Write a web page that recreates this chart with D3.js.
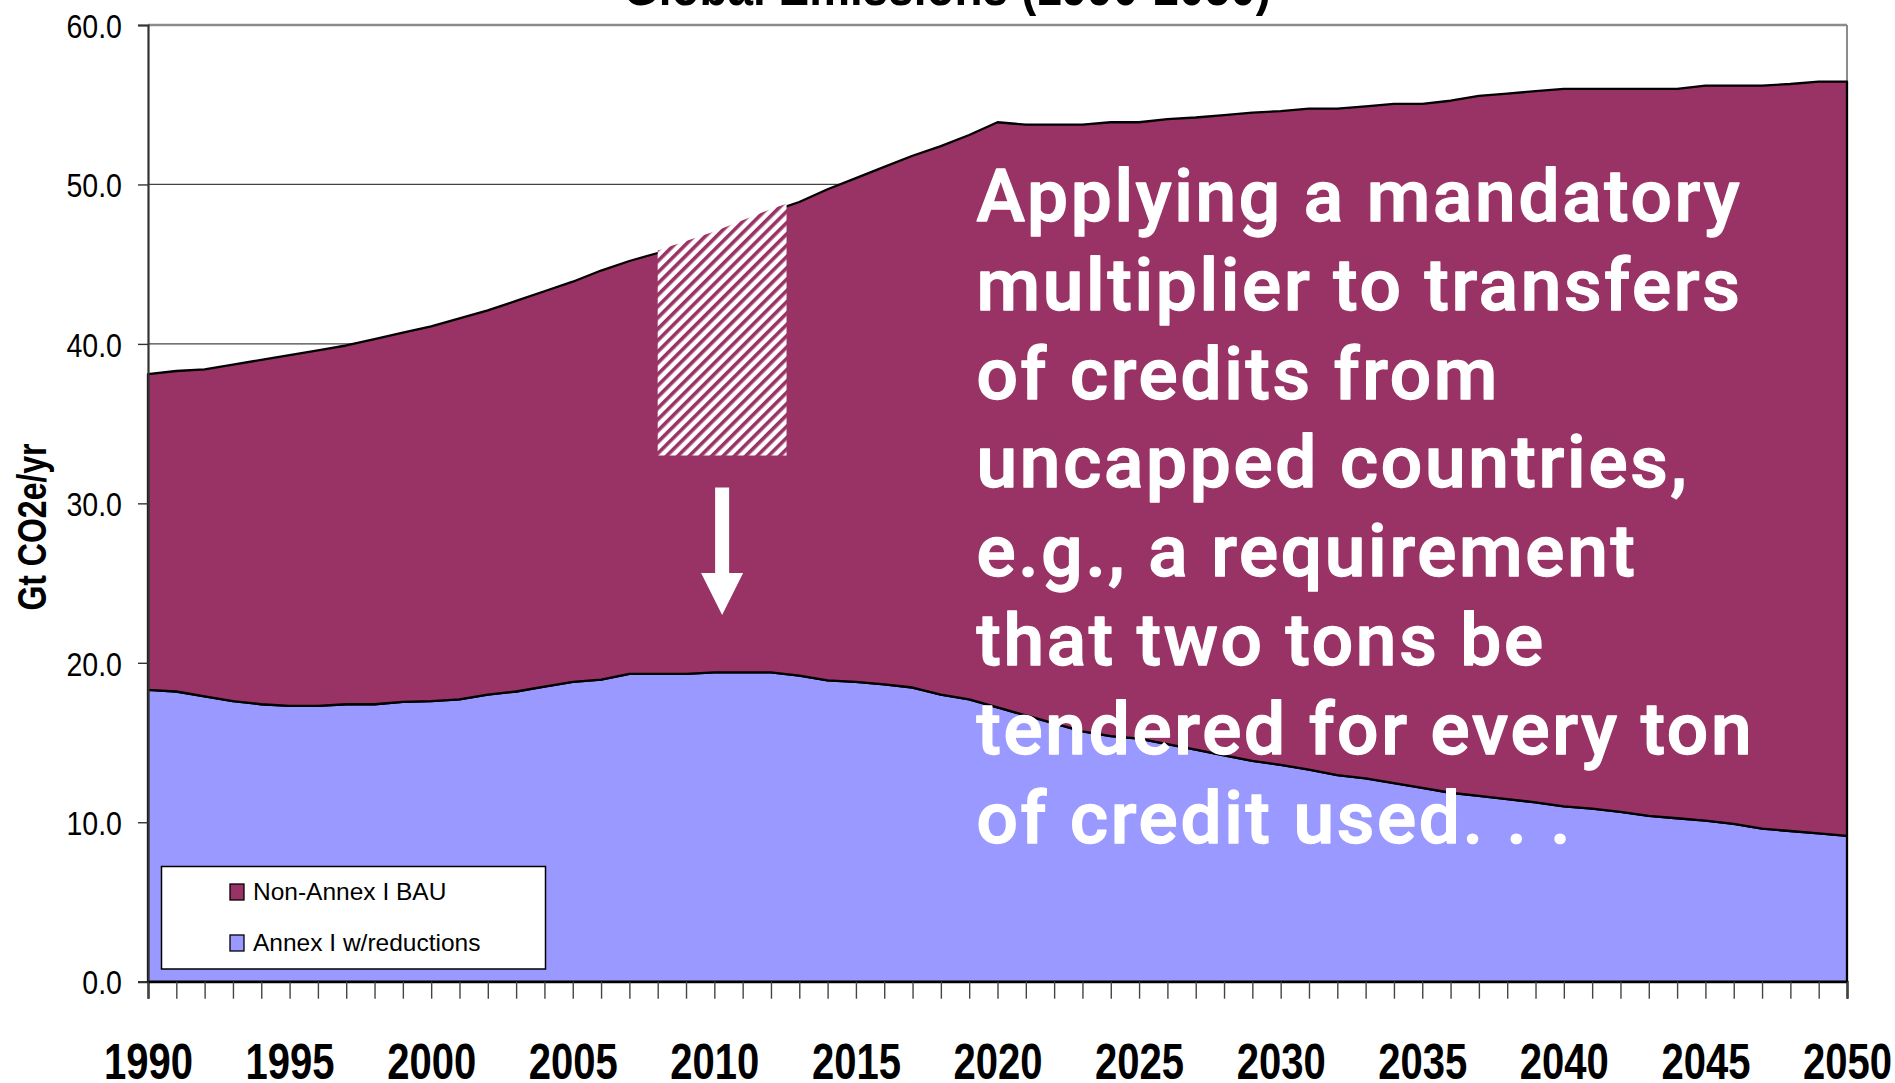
<!DOCTYPE html>
<html>
<head>
<meta charset="utf-8">
<script src="https://cdn.jsdelivr.net/npm/d3@7/dist/d3.min.js"></script>
<style>
  html, body { margin: 0; padding: 0; background: #fff; overflow: hidden; }
  svg { display: block; }
</style>
</head>
<body>
<svg id="chart" width="1895" height="1083"></svg>
<script>
// ---- data -------------------------------------------------------------
const years = [
  1990, 1991, 1992, 1993, 1994, 1995, 1996, 1997, 1998, 1999,
  2000, 2001, 2002, 2003, 2004, 2005, 2006, 2007, 2008, 2009,
  2010, 2011, 2012, 2013, 2014, 2015, 2016, 2017, 2018, 2019,
  2020, 2021, 2022, 2023, 2024, 2025, 2026, 2027, 2028, 2029,
  2030, 2031, 2032, 2033, 2034, 2035, 2036, 2037, 2038, 2039,
  2040, 2041, 2042, 2043, 2044, 2045, 2046, 2047, 2048, 2049, 2050
];

// Annex I emissions with reductions (Gt CO2e/yr)
const annexI = [
  18.3, 18.2, 17.9, 17.6, 17.4, 17.3, 17.3, 17.4, 17.4, 17.55,
  17.6, 17.7, 18.0, 18.2, 18.5, 18.8, 18.95, 19.3, 19.3, 19.3,
  19.4, 19.4, 19.4, 19.2, 18.9, 18.8, 18.65, 18.45, 18.0, 17.7,
  17.2, 16.7, 16.2, 15.7, 15.4, 15.25, 14.9, 14.55, 14.2, 13.85,
  13.6, 13.3, 12.95, 12.75, 12.45, 12.15, 11.85, 11.65, 11.45, 11.25,
  11.0, 10.85, 10.65, 10.4, 10.25, 10.1, 9.9, 9.6, 9.45, 9.3, 9.15
];

// Non-Annex I business-as-usual emissions (Gt CO2e/yr), stacked on top
const nonAnnexBAU = [
  19.8, 20.1, 20.5, 21.1, 21.6, 22.0, 22.3, 22.5, 22.9, 23.15,
  23.5, 23.9, 24.1, 24.5, 24.8, 25.1, 25.65, 25.9, 26.4, 27.0,
  27.5, 28.2, 28.9, 29.7, 30.8, 31.6, 32.45, 33.35, 34.4, 35.4,
  36.7, 37.05, 37.55, 38.05, 38.5, 38.65, 39.2, 39.65, 40.15, 40.65,
  41.0, 41.45, 41.8, 42.15, 42.6, 42.9, 43.4, 43.9, 44.25, 44.6,
  45.0, 45.15, 45.35, 45.6, 45.75, 46.1, 46.3, 46.6, 46.85, 47.15, 47.3
];

const seriesKeys   = ["annex", "nonAnnex"];
const seriesNames  = { annex: "Annex I w/reductions", nonAnnex: "Non-Annex I BAU" };
const seriesColors = { annex: "#9999FF", nonAnnex: "#993366" };
const legendOrder  = ["nonAnnex", "annex"];

const yTicks      = [0, 10, 20, 30, 40, 50, 60];
const xLabelYears = [1990, 1995, 2000, 2005, 2010, 2015, 2020, 2025, 2030, 2035, 2040, 2045, 2050];

const chartTitle = "Global Emissions (1990-2050)";
const yTitle     = "Gt CO2e/yr";

const noteLines = [
  "Applying a mandatory",
  "multiplier to transfers",
  "of credits from",
  "uncapped countries,",
  "e.g., a requirement",
  "that two tons be",
  "tendered for every ton",
  "of credit used. . ."
];

// hatched block (years, Gt) and the downward arrow beneath it (Gt)
const hatchYears = [2008, 2012.55];
const hatchFloor = 33;
const arrowSpan  = [31, 23];

// ---- layout -----------------------------------------------------------
const plot = { left: 148, right: 1847, top: 25, bottom: 981.7 };
const x = d3.scaleLinear().domain([1990, 2050]).range([plot.left, plot.right]);
const y = d3.scaleLinear().domain([0, 60]).range([plot.bottom, plot.top]);

const svg = d3.select("#chart");
const defs = svg.append("defs");

// diagonal stripe fill
const pat = defs.append("pattern")
  .attr("id", "stripes")
  .attr("patternUnits", "userSpaceOnUse")
  .attr("width", 8).attr("height", 8)
  .attr("patternTransform", "rotate(-45)");
pat.append("rect").attr("width", 8).attr("height", 8).attr("fill", "#fff");
pat.append("rect").attr("y", 0).attr("width", 8).attr("height", 3.6).attr("fill", "#993366");

// ---- stacked data -----------------------------------------------------
const rows = years.map((yr, i) => ({ year: yr, annex: annexI[i], nonAnnex: nonAnnexBAU[i] }));
const layers = d3.stack().keys(seriesKeys)(rows);

const area = d3.area()
  .x(d => x(d.data.year))
  .y0(d => y(d[0]))
  .y1(d => y(d[1]));

// ---- gridlines (behind the areas) -------------------------------------
svg.append("g")
  .selectAll("line")
  .data(yTicks.filter(v => v > 0 && v < 60))
  .join("line")
  .attr("x1", plot.left).attr("x2", plot.right)
  .attr("y1", d => y(d)).attr("y2", d => y(d))
  .attr("stroke", "#444").attr("stroke-width", 1.2);

// plot border: top and right in grey
svg.append("line")
  .attr("x1", plot.left).attr("x2", plot.right)
  .attr("y1", y(60)).attr("y2", y(60))
  .attr("stroke", "#8c8c8c").attr("stroke-width", 2.6);
svg.append("line")
  .attr("x1", plot.right).attr("x2", plot.right)
  .attr("y1", y(60)).attr("y2", plot.bottom)
  .attr("stroke", "#8c8c8c").attr("stroke-width", 2);

// ---- areas ------------------------------------------------------------
svg.append("g")
  .selectAll("path")
  .data(layers)
  .join("path")
  .attr("d", area)
  .attr("fill", d => seriesColors[d.key])
  .attr("stroke", "#000")
  .attr("stroke-width", 2.3)
  .attr("stroke-linejoin", "round");

// ---- hatched block, clipped to the top of the stack --------------------
const topLayer = layers[layers.length - 1];
const clipArea = d3.area()
  .x(d => x(d.data.year))
  .y0(plot.bottom)
  .y1(d => y(d[1]) - 2.5);
defs.append("clipPath").attr("id", "stackClip")
  .append("path").attr("d", clipArea(topLayer));

svg.append("rect")
  .attr("clip-path", "url(#stackClip)")
  .attr("x", x(hatchYears[0]))
  .attr("width", x(hatchYears[1]) - x(hatchYears[0]))
  .attr("y", y(60))
  .attr("height", y(hatchFloor) - y(60))
  .attr("fill", "url(#stripes)");

// ---- arrow ------------------------------------------------------------
const ax = x((hatchYears[0] + hatchYears[1]) / 2);
const headLen = 42, headHalf = 21, shaftHalf = 7;
const yStart = y(arrowSpan[0]), yTip = y(arrowSpan[1]);
svg.append("path")
  .attr("d", [
    "M", ax - shaftHalf, yStart,
    "L", ax + shaftHalf, yStart,
    "L", ax + shaftHalf, yTip - headLen,
    "L", ax + headHalf, yTip - headLen,
    "L", ax, yTip,
    "L", ax - headHalf, yTip - headLen,
    "L", ax - shaftHalf, yTip - headLen,
    "Z"
  ].join(" "))
  .attr("fill", "#fff");

// ---- axes -------------------------------------------------------------
const yAxis = svg.append("g")
  .attr("transform", `translate(${plot.left},0)`)
  .call(d3.axisLeft(y).tickValues(yTicks).tickSize(10).tickFormat(d3.format(".1f")));
yAxis.select(".domain").attr("stroke", "#333").attr("stroke-width", 2.2);
yAxis.selectAll(".tick line").attr("stroke", "#333").attr("stroke-width", 1.4);
yAxis.selectAll(".tick text")
  .attr("x", -26 / 0.84)
  .attr("dy", "0.36em")
  .attr("transform", "scale(0.84,1)")
  .style("font-family", "'Liberation Sans', Arial, sans-serif")
  .style("font-size", "34px")
  .attr("fill", "#000");

const xAxis = svg.append("g")
  .attr("transform", `translate(0,${plot.bottom})`)
  .call(d3.axisBottom(x).tickValues(years).tickSize(17)
    .tickFormat(d => xLabelYears.includes(d) ? String(d) : ""));
xAxis.select(".domain").attr("stroke", "#000").attr("stroke-width", 2.2);
xAxis.selectAll(".tick line").attr("stroke", "#444").attr("stroke-width", 1.4);
xAxis.selectAll(".tick text")
  .attr("y", 97)
  .attr("dy", 0)
  .attr("transform", "scale(0.8,1)")
  .style("font-family", "'Liberation Sans', Arial, sans-serif")
  .style("font-weight", "bold")
  .style("font-size", "50px")
  .attr("fill", "#000");

// ---- titles -----------------------------------------------------------
svg.append("text")
  .attr("transform", "translate(947,5) scale(0.85,1)")
  .attr("text-anchor", "middle")
  .style("font-family", "'Liberation Sans', Arial, sans-serif")
  .style("font-weight", "bold")
  .style("font-size", "54px")
  .text(chartTitle);

svg.append("text")
  .attr("transform", "translate(46,527) rotate(-90) scale(0.8,1)")
  .attr("text-anchor", "middle")
  .style("font-family", "'Liberation Sans', Arial, sans-serif")
  .style("font-weight", "bold")
  .style("font-size", "40px")
  .text(yTitle);

// ---- legend -----------------------------------------------------------
const legend = svg.append("g");
legend.append("rect")
  .attr("x", 161.5).attr("y", 866.5)
  .attr("width", 384).attr("height", 102.5)
  .attr("fill", "#fff").attr("stroke", "#000").attr("stroke-width", 1.5);
const items = legend.selectAll("g.item")
  .data(legendOrder)
  .join("g")
  .attr("class", "item")
  .attr("transform", (d, i) => `translate(230,${884 + i * 51})`);
items.append("rect")
  .attr("width", 14).attr("height", 16)
  .attr("fill", d => seriesColors[d])
  .attr("stroke", "#000").attr("stroke-width", 1.3);
items.append("text")
  .attr("x", 23).attr("y", 16)
  .style("font-family", "'Liberation Sans', Arial, sans-serif")
  .style("font-size", "24.5px")
  .text(d => seriesNames[d]);

// ---- annotation -------------------------------------------------------
const note = svg.append("g")
  .style("font-family", "Roboto, 'Open Sans', sans-serif")
  .style("font-weight", "500")
  .style("font-size", "73px")
  .attr("fill", "#fff")
  .attr("stroke", "#fff")
  .attr("stroke-width", 1.4)
  .attr("stroke-linejoin", "round");
const noteLinesSel = note.selectAll("text")
  .data(noteLines)
  .join("text")
  .attr("x", 976.5)
  .attr("y", (d, i) => 221 + i * 88.8)
  .text(d => d);
// spread the letters so the first line spans the text block width
const firstLen = noteLinesSel.node().getComputedTextLength();
const spacing = (763 - firstLen) / (noteLines[0].length - 1);
noteLinesSel.style("letter-spacing", spacing + "px");
</script>
</body>
</html>
